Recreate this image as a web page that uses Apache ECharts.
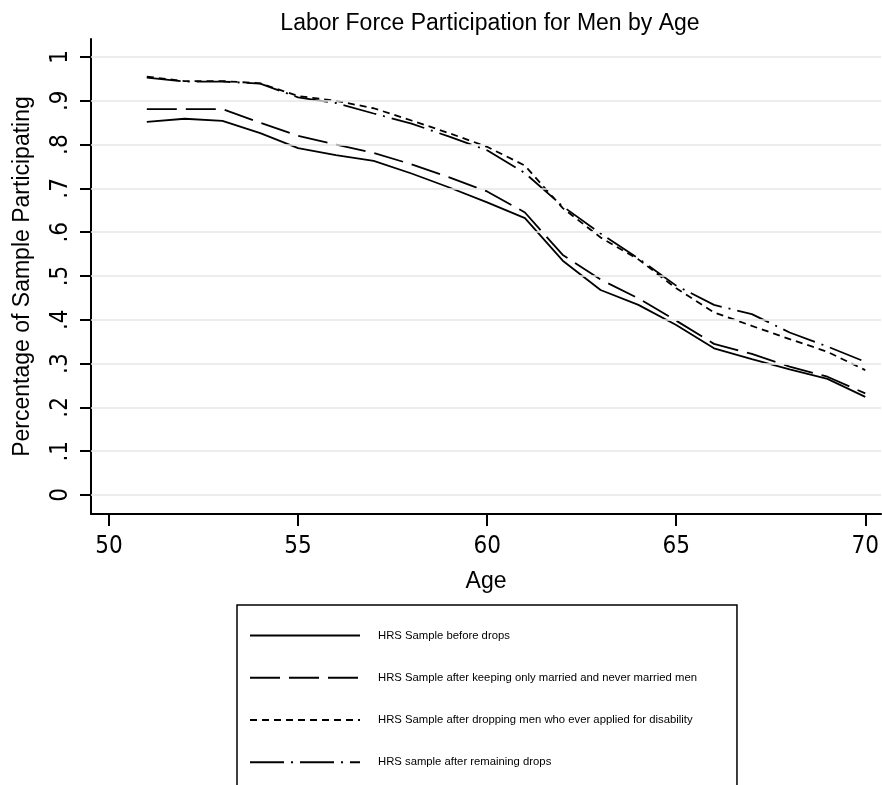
<!DOCTYPE html>
<html>
<head>
<meta charset="utf-8">
<script src="https://cdn.jsdelivr.net/npm/echarts@6/dist/echarts.min.js"></script>
<style>
  html, body { margin: 0; padding: 0; background: #fff; }
  #chart { width: 882px; height: 785px; }
</style>
</head>
<body>
<div id="chart"></div>
<script>
// Ages observed in the HRS panel
const ages = [51, 52, 53, 54, 55, 56, 57, 58, 59, 60, 61, 62, 63, 64, 65, 66, 67, 68, 69, 70];

// Share of each sample in the labor force, by age
const beforeDrops      = [0.852, 0.859, 0.854, 0.826, 0.792, 0.776, 0.763, 0.734, 0.702, 0.668, 0.632, 0.535, 0.468, 0.434, 0.388, 0.335, 0.310, 0.287, 0.265, 0.224];
const marriedNever     = [0.881, 0.881, 0.881, 0.850, 0.820, 0.800, 0.781, 0.755, 0.725, 0.693, 0.645, 0.548, 0.492, 0.449, 0.398, 0.345, 0.322, 0.293, 0.270, 0.232];
const noDisability     = [0.955, 0.945, 0.945, 0.940, 0.911, 0.900, 0.883, 0.855, 0.826, 0.795, 0.752, 0.655, 0.588, 0.538, 0.472, 0.417, 0.386, 0.356, 0.327, 0.285];
const remainingDrops   = [0.953, 0.944, 0.944, 0.939, 0.908, 0.895, 0.871, 0.848, 0.818, 0.787, 0.735, 0.659, 0.597, 0.540, 0.478, 0.434, 0.413, 0.371, 0.339, 0.304];

const seriesNames = [
  'HRS Sample before drops',
  'HRS Sample after keeping only married and never married men',
  'HRS Sample after dropping men who ever applied for disability',
  'HRS sample after remaining drops'
];

// Axis ticks
const yTicks = [0, 0.1, 0.2, 0.3, 0.4, 0.5, 0.6, 0.7, 0.8, 0.9, 1];
const xTicks = [50, 55, 60, 65, 70];

const FONT = '"Liberation Sans", Arial, sans-serif';
const NARROW = '"Liberation Sans Narrow", "Arial Narrow", "DejaVu Sans Condensed", "Liberation Sans", sans-serif';

function fmtY(v) {
  if (v === 0) return '0';
  if (v === 1) return '1';
  return '.' + Math.round(v * 10);
}

function pairs(vals) {
  return ages.map((a, i) => [a, vals[i]]);
}

const dashStyles = ['solid', [30, 9], [7, 5], [34, 7, 2, 7]];
const valueSets = [beforeDrops, marriedNever, noDisability, remainingDrops];

const series = valueSets.map((vals, i) => ({
  name: seriesNames[i],
  type: 'line',
  data: pairs(vals),
  symbol: 'none',
  showSymbol: false,
  smooth: false,
  animation: false,
  z: 3,
  lineStyle: { color: '#000', width: 1.8, type: dashStyles[i] },
  itemStyle: { color: '#000' }
}));

// Horizontal grid lines at each y tick
series[0].markLine = {
  silent: true,
  symbol: 'none',
  animation: false,
  label: { show: false },
  lineStyle: { color: '#e6e6e6', width: 1.5, type: 'solid' },
  data: yTicks.map(v => ({ yAxis: v }))
};

const chart = echarts.init(document.getElementById('chart'), null, { renderer: 'canvas' });
chart.setOption({
  backgroundColor: '#fff',
  animation: false,
  title: {
    text: 'Labor Force Participation for Men by Age',
    left: 485,
    top: 7,
    textAlign: 'center',
    textStyle: { fontFamily: FONT, fontSize: 23, fontWeight: 'normal', color: '#000' }
  },
  grid: { left: 91, right: 0, top: 39, bottom: 271, containLabel: false },
  xAxis: {
    type: 'value',
    min: 49.524,
    max: 70.42,
    name: 'Age',
    nameLocation: 'middle',
    nameGap: 56,
    nameTextStyle: { fontFamily: FONT, fontSize: 23, color: '#000' },
    axisLine: { show: true, onZero: false, lineStyle: { color: '#000', width: 2 } },
    axisTick: { show: true, length: 12, customValues: xTicks, lineStyle: { color: '#000', width: 2 } },
    axisLabel: { customValues: xTicks, margin: 21, fontFamily: NARROW, fontSize: 24, color: '#000' },
    splitLine: { show: false }
  },
  yAxis: {
    type: 'value',
    min: -0.0434,
    max: 1.0411,
    name: 'Percentage of Sample Participating',
    nameLocation: 'middle',
    nameGap: 57,
    nameTextStyle: { fontFamily: FONT, fontSize: 23, color: '#000' },
    axisLine: { show: true, onZero: false, lineStyle: { color: '#000', width: 2 } },
    axisTick: { show: true, length: 11, customValues: yTicks, lineStyle: { color: '#000', width: 2 } },
    axisLabel: {
      customValues: yTicks,
      rotate: 90,
      margin: 18,
      fontFamily: NARROW,
      fontSize: 24,
      color: '#000',
      formatter: fmtY
    },
    splitLine: { show: false }
  },
  legend: {
    orient: 'vertical',
    left: 237,
    top: 605,
    width: 520,
    height: 260,
    itemWidth: 110,
    itemHeight: 14,
    itemGap: 31,
    padding: [25, 40, 22, 12],
    borderColor: '#000',
    borderWidth: 1.5,
    borderRadius: 0,
    selectedMode: false,
    itemStyle: { opacity: 0 },
    textStyle: { fontFamily: FONT, fontSize: 11.3, color: '#000', padding: [0, 0, 0, 13] },
    data: seriesNames
  },
  series: series
});
</script>
</body>
</html>
